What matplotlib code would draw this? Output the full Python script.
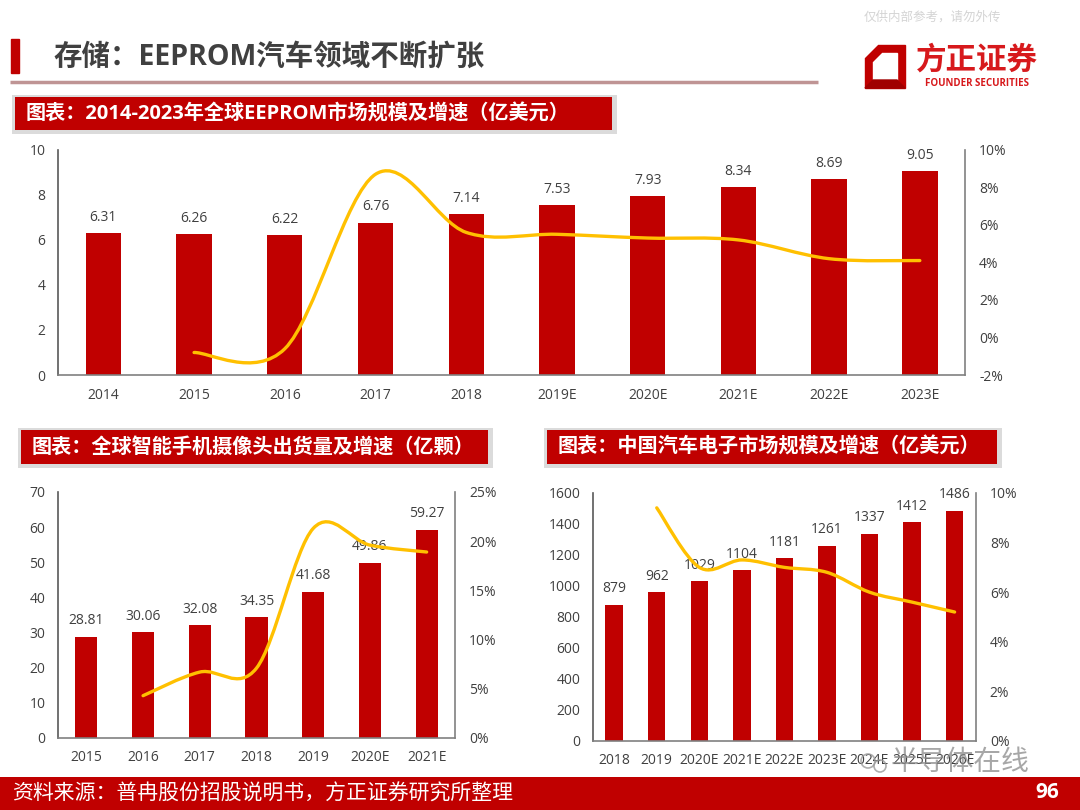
import numpy as np
import matplotlib.pyplot as plt
from matplotlib.path import Path
from matplotlib.patches import PathPatch, Rectangle, Polygon
from matplotlib.ticker import FuncFormatter

plt.rcParams['font.family'] = ['Open Sans', 'Noto Sans CJK SC', 'DejaVu Sans']

# ---- data ----
eeprom_years = ['2014', '2015', '2016', '2017', '2018', '2019E', '2020E', '2021E', '2022E', '2023E']
eeprom_size = [6.31, 6.26, 6.22, 6.76, 7.14, 7.53, 7.93, 8.34, 8.69, 9.05]
eeprom_growth = [None, -0.8, -0.6, 8.7, 5.6, 5.5, 5.3, 5.2, 4.2, 4.1]  # %

cam_years = ['2015', '2016', '2017', '2018', '2019', '2020E', '2021E']
cam_units = [28.81, 30.06, 32.08, 34.35, 41.68, 49.86, 59.27]
cam_growth = [None, 4.3, 6.7, 7.1, 21.3, 19.6, 18.9]  # %

auto_years = ['2018', '2019', '2020E', '2021E', '2022E', '2023E', '2024E', '2025E', '2026E']
auto_size = [879, 962, 1029, 1104, 1181, 1261, 1337, 1412, 1486]
auto_growth = [None, 9.4, 7.0, 7.3, 7.0, 6.8, 6.0, 5.6, 5.2]  # %

RED = '#c00000'
GOLD = '#ffc000'
TXT = '#404040'


def smooth_path(xs, ys):
    # Excel-style smoothed line (Catmull-Rom as cubic Bezier)
    pts = np.column_stack([xs, ys]).astype(float)
    n = len(pts)
    verts = [pts[0]]
    codes = [Path.MOVETO]
    for i in range(n - 1):
        p0 = pts[max(i - 1, 0)]
        p1 = pts[i]
        p2 = pts[i + 1]
        p3 = pts[min(i + 2, n - 1)]
        verts += [p1 + (p2 - p0) / 6, p2 - (p3 - p1) / 6, p2]
        codes += [Path.CURVE4] * 3
    return Path(verts, codes)


def combo(rect, cats, vals, growth, ymax, ystep, gmin, gmax, gstep, fmt, bw):
    ax = fig.add_axes(rect)
    x = np.arange(len(cats))
    ax.bar(x, vals, width=bw, color=RED, zorder=2)
    for xi, v in zip(x, vals):
        ax.annotate(fmt.format(v), (xi, v), xytext=(0, 6), textcoords='offset points',
                    ha='center', va='bottom', fontsize=10, color=TXT, zorder=5)
    ax.set_xlim(-0.5, len(cats) - 0.5)
    ax.set_ylim(0, ymax)
    ax.set_yticks(np.arange(0, ymax + ystep / 2, ystep))
    ax.set_xticks(x)
    ax.set_xticklabels(cats)
    ax.tick_params(axis='both', length=0, labelsize=10, labelcolor=TXT)
    ax.tick_params(axis='x', pad=9)
    ax.tick_params(axis='y', pad=9)
    for s in ['top', 'right']:
        ax.spines[s].set_visible(False)
    ax.spines['left'].set_color('#595959')
    ax.spines['bottom'].set_color('#808080')
    ax.spines['left'].set_linewidth(1.2)
    ax.spines['bottom'].set_linewidth(1.2)

    ax2 = ax.twinx()
    gx = [xi for xi, g in zip(x, growth) if g is not None]
    gy = [g for g in growth if g is not None]
    ax2.add_patch(PathPatch(smooth_path(gx, gy), fill=False, edgecolor=GOLD,
                            linewidth=2.4, capstyle='round', zorder=3))
    ax2.set_ylim(gmin, gmax)
    ax2.set_yticks(np.arange(gmin, gmax + gstep / 2, gstep))
    ax2.yaxis.set_major_formatter(FuncFormatter(lambda v, p: f'{v:.0f}%'))
    ax2.tick_params(axis='y', length=0, labelsize=10, labelcolor=TXT, pad=10)
    for s in ['top', 'left', 'bottom']:
        ax2.spines[s].set_visible(False)
    ax2.spines['right'].set_color('#808080')
    ax2.spines['right'].set_linewidth(1.2)
    return ax, ax2


fig = plt.figure(figsize=(10.8, 8.1), dpi=100)

# ---- slide decorations (pixel coordinates) ----
bg = fig.add_axes([0, 0, 1, 1], zorder=-1)
bg.set_xlim(0, 1080)
bg.set_ylim(810, 0)
bg.axis('off')

bg.text(932, 17, '仅供内部参考，请勿外传', fontsize=9, color='#d4d4d4', ha='center', va='center')
bg.add_patch(Rectangle((11, 39), 8, 34, color=RED))
bg.text(53, 57, '存储：EEPROM汽车领域不断扩张', fontsize=20.5, color=TXT,
        fontweight='bold', ha='left', va='center')
bg.plot([10, 818], [82, 82], color='#bf9494', lw=2.5, solid_capstyle='butt')

# logo
bg.add_patch(Polygon([(878, 45), (905, 45), (905, 88), (865, 88), (865, 58)], closed=True, color=RED))
bg.add_patch(Polygon([(882, 53), (897, 53), (897, 80), (873, 80), (873, 62)], closed=True, color='white'))
bg.add_patch(Polygon([(865, 88), (873, 80), (897, 80), (905, 88)], closed=True, color='#a00000'))
bg.text(977, 61, '方正证券', fontsize=22, color='#d7191c', fontweight='bold', ha='center', va='center')
bg.text(977, 83, 'FOUNDER SECURITIES', fontsize=7, color='#d7191c', fontweight='bold', ha='center', va='center')

# chart title boxes
for (x0, y0, w, h, title) in [
        (15, 97, 597, 33, '图表：2014-2023年全球EEPROM市场规模及增速（亿美元）'),
        (21, 430, 467, 34, '图表：全球智能手机摄像头出货量及增速（亿颗）'),
        (547, 430, 450, 34, '图表：中国汽车电子市场规模及增速（亿美元）')]:
    bg.add_patch(Rectangle((x0 - 3, y0 - 2), w + 8, h + 6, color='#999999', alpha=0.35, lw=0))
    bg.add_patch(Rectangle((x0, y0), w, h, color=RED, lw=0))
    bg.text(x0 + 11, y0 + h / 2 + 1, title, fontsize=14.5, color='white', fontweight='bold',
            ha='left', va='center')

# footer
bg.add_patch(Rectangle((0, 777), 1080, 33, color=RED, lw=0))
bg.text(12, 794, '资料来源：普冉股份招股说明书，方正证券研究所整理', fontsize=15, color='white',
        ha='left', va='center')
bg.text(1047, 793, '96', fontsize=15, color='white', fontweight='bold', ha='center', va='center')

# ---- charts ----
combo([0.0537, 0.537, 0.840, 0.278], eeprom_years, eeprom_size, eeprom_growth,
      10, 2, -2, 10, 2, '{:.2f}', 0.39)
combo([0.0537, 0.0889, 0.3676, 0.3037], cam_years, cam_units, cam_growth,
      70, 10, 0, 25, 5, '{:.2f}', 0.39)
combo([0.549, 0.0852, 0.3546, 0.3062], auto_years, auto_size, auto_growth,
      1600, 200, 0, 10, 2, '{:.0f}', 0.41)

# watermark on top
top = fig.add_axes([0, 0, 1, 1], zorder=10)
top.set_xlim(0, 1080)
top.set_ylim(810, 0)
top.axis('off')
top.patch.set_alpha(0)
top.add_patch(plt.Circle((868, 761), 7, fill=False, ec='#9a9a9a', lw=1.2, alpha=0.8))
top.add_patch(plt.Circle((880, 766), 6, fill=False, ec='#9a9a9a', lw=1.2, alpha=0.8))
top.text(960, 763, '半导体在线', fontsize=20, color='#8a8a8a', alpha=0.75, ha='center', va='center')

fig.savefig('out.png', dpi=100)
